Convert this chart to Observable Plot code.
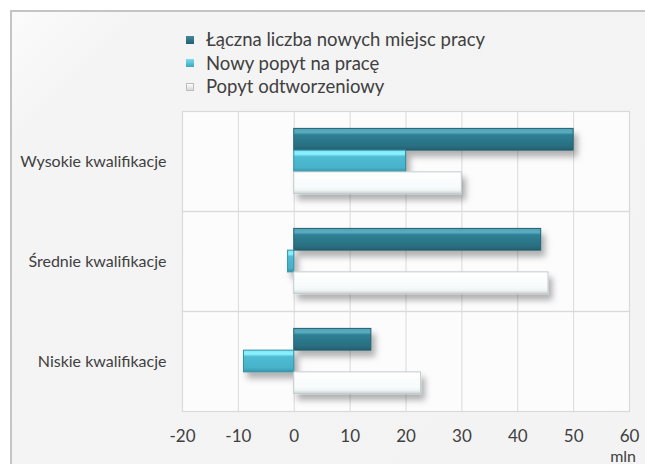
<!DOCTYPE html>
<html>
<head>
<meta charset="utf-8">
<script src="https://cdn.jsdelivr.net/npm/d3@7"></script>
<script src="https://cdn.jsdelivr.net/npm/@observablehq/plot@0.6"></script>
<style>
  html, body { margin: 0; padding: 0; background: #ffffff; }
  #wrap { position: relative; width: 645px; height: 468px; overflow: hidden; font-family: Lato, "DejaVu Sans", sans-serif; color: #404040; }
  #panel { position: absolute; left: 10px; top: 10px; width: 700px; height: 452px;
           border-left: 2px solid #c4c4c4; border-top: 2px solid #c4c4c4;
           background: linear-gradient(135deg, #fbfbfb 0%, #f4f4f4 12%, #f3f3f3 100%); }
  #chart { position: absolute; left: 0; top: 0; }
  #legend { position: absolute; left: 186px; top: 28px; font-size: 18.5px; line-height: 23.5px; }
  .item { display: flex; align-items: center; white-space: nowrap; }
  .sw { width: 8px; height: 8px; margin-right: 12px; box-sizing: border-box; }
  #mln { position: absolute; right: 9px; top: 447px; font-size: 16px; line-height: 18px; }
</style>
</head>
<body>
<div id="wrap">
  <div id="panel"></div>
  <div id="chart"></div>
  <div id="legend"></div>
  <div id="mln">mln</div>
</div>
<script>
const categories = ["Wysokie kwalifikacje", "Średnie kwalifikacje", "Niskie kwalifikacje"];
const series = ["Łączna liczba nowych miejsc pracy", "Nowy popyt na pracę", "Popyt odtworzeniowy"];
const totalJobs = [50, 44.2, 13.8];
const newDemand = [20, -1.1, -9];
const replacementDemand = [30, 45.5, 22.7];
const xTicks = [-20, -10, 0, 10, 20, 30, 40, 50, 60];

const seriesValues = [totalJobs, newDemand, replacementDemand];
const rows = [];
categories.forEach((c, i) => {
  series.forEach((s, j) => rows.push({category: c, series: s, value: seriesValues[j][i]}));
});

const fills = ["url(#gDark)", "url(#gLight)", "url(#gWhite)"];
const strokes = ["#24606f", "#3590a6", "#c3cbcd"];
const swatches = [
  "linear-gradient(#3f8a9c, #22606f)",
  "linear-gradient(#7fdcee, #3aa7bf)",
  "linear-gradient(#fdfdfd, #d8d8d8)"
];

const chart = Plot.plot({
  width: 645,
  height: 468,
  marginLeft: 182,
  marginRight: 16,
  marginTop: 110,
  marginBottom: 57,
  style: {background: "transparent", fontFamily: "Lato, 'DejaVu Sans', sans-serif", fontSize: "15px", color: "#404040"},
  x: {domain: [-20, 60], ticks: xTicks, label: null},
  fy: {domain: categories, padding: 0, label: null},
  y: {domain: series, paddingInner: 0, paddingOuter: 0.8, axis: null, round: false},
  color: {type: "ordinal", domain: series, range: fills},
  marks: [
    Plot.frame({fill: "#fcfcfc", stroke: null}),
    Plot.ruleX(xTicks, {stroke: "#dadada", strokeWidth: 1, strokeOpacity: 1}),
    Plot.frame({stroke: "#dadada", strokeWidth: 1.2}),
    Plot.barX(rows, {
      fy: "category", y: "series", x1: 0, x2: "value",
      fill: "series",
      stroke: d => strokes[series.indexOf(d.series)],
      strokeWidth: 1
    }),
    Plot.axisX({ticks: xTicks, tickSize: 0, tickPadding: 18, fontSize: 17, label: null, tickFormat: d => String(d)}),
    Plot.axisFy({anchor: "left", tickSize: 0, tickPadding: 16, fontSize: 16, label: null})
  ]
});

// gradients and shadow
const svg = d3.select(chart);
const defs = svg.insert("defs", ":first-child");
function grad(id, stops) {
  const g = defs.append("linearGradient").attr("id", id).attr("x1", 0).attr("y1", 0).attr("x2", 0).attr("y2", 1);
  stops.forEach(([o, c]) => g.append("stop").attr("offset", o).attr("stop-color", c));
}
grad("gDark", [[0, "#4fa2b6"], [0.18, "#5aaec2"], [0.3, "#2f7f94"], [0.8, "#2a6f82"], [1, "#23606f"]]);
grad("gLight", [[0, "#7be8fb"], [0.18, "#8ef2ff"], [0.3, "#4fbcd3"], [0.8, "#48b2ca"], [1, "#3897ad"]]);
grad("gWhite", [[0, "#ffffff"], [0.7, "#f7fbfb"], [0.85, "#eef3f4"], [1, "#c9d2d4"]]);
const f = defs.append("filter").attr("id", "shadow").attr("x", "-10%").attr("y", "-30%").attr("width", "130%").attr("height", "190%");
f.append("feDropShadow").attr("dx", 4).attr("dy", 6).attr("stdDeviation", 3).attr("flood-color", "#000").attr("flood-opacity", 0.3);
svg.selectAll("g[aria-label='bar']").attr("filter", "url(#shadow)");

document.getElementById("chart").appendChild(chart);

const legend = d3.select("#legend");
series.forEach((s, j) => {
  const it = legend.append("div").attr("class", "item");
  it.append("div").attr("class", "sw").style("background", swatches[j])
    .style("border", j === 2 ? "1px solid #bdbdbd" : "none");
  it.append("span").text(s);
});
</script>
</body>
</html>
